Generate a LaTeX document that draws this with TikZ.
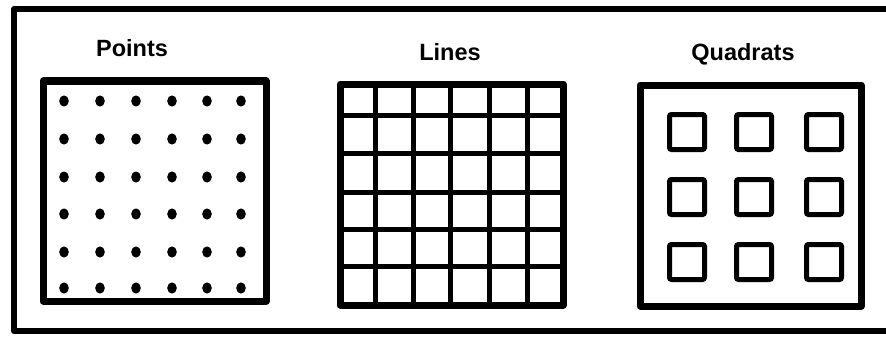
\documentclass[tikz,border=0pt]{standalone}
\usepackage{fontspec}
\setmainfont{Liberation Sans}
\begin{document}
\begin{tikzpicture}[x=1pt,y=-1pt,
  frame/.style={line width=6pt, line join=round},
  panel/.style={line width=7pt, line join=round},
  gridline/.style={line width=5pt},
  dot/.style={fill=black, draw=none},
  quad/.style={line width=5pt, rounded corners=2pt},
  title/.style={font=\bfseries\fontsize{23.5}{28}\selectfont, inner sep=0pt, anchor=base}]
\useasboundingbox (0,0) rectangle (886,337);
\fill[white] (0,0) rectangle (886,337);
\clip (0,0) rectangle (886,337);
% outer frame (right edge cut off by the image border)
\draw[frame] (14,9) rectangle (898,331);
% titles
\node[title] (tpoints) at (132,57) {Points};
\node[title] (tlines) at (450,60) {Lines};
\node[title] (tquad) at (743,60) {Quadrats};
% Points panel
\draw[panel] (43,81) rectangle (266,301);
\foreach \x in {64,100,136,172,207,241}
  \foreach \y in {101,139,177,214,252,288}
    \fill[dot] (\x,\y) ellipse [x radius=4.8pt, y radius=5.6pt];
% Lines panel
\foreach \x in {375,413,450,489,527}
  \draw[gridline] (\x,84) -- (\x,305);
\foreach \y in {115,153,192,229,266}
  \draw[gridline] (340,\y) -- (563,\y);
\draw[panel] (340,84) rectangle (563,305);
% Quadrats panel
\draw[panel] (640,85) rectangle (861,306);
\foreach \x in {687,754,824}
  \foreach \y in {132,197,262}{
    \draw[quad] (\x-17.5,\y-17.5) rectangle (\x+17.5,\y+17.5);
    \draw[line width=3pt] (\x-17,\y+16.5) -- (\x+17,\y+16.5);
  }
\end{tikzpicture}
\end{document}
